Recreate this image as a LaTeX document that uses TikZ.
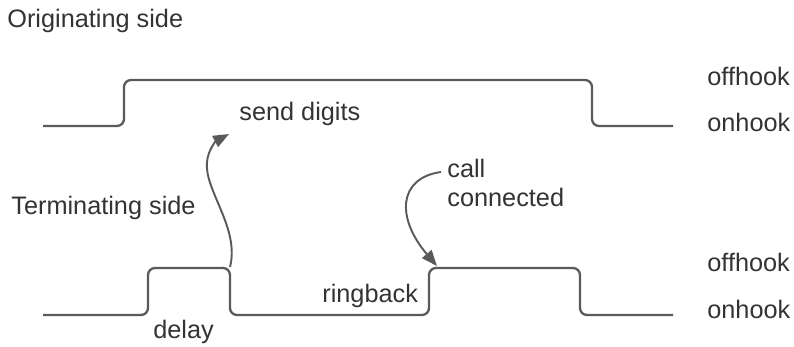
\documentclass[tikz,border=0pt]{standalone}
\usepackage{fontspec}
\setmainfont{Liberation Sans}
\usetikzlibrary{arrows.meta}
\definecolor{wavegray}{HTML}{5A5A5A}
\definecolor{textgray}{HTML}{333333}
\tikzset{
  wave/.style={draw=wavegray, line width=1.3pt, rounded corners=4pt},
  lbl/.style={inner sep=0pt, anchor=base west, text=textgray,
    font=\fontsize{14.4}{17}\selectfont},
  cue/.style={draw=wavegray, line width=1.1pt, -{Triangle[length=9pt,width=7pt]}},
}

\begin{document}
\begin{tikzpicture}[x=0.02cm, y=-0.02cm]
  \useasboundingbox (0,0) rectangle (794,347);
  % side titles
  \node[lbl] (orig) at (7,28) {Originating side};
  \node[lbl] (term) at (11,215) {Terminating side};
  % hook state labels
  \node[lbl] (offA) at (707,86) {offhook};
  \node[lbl] (onA) at (707,132) {onhook};
  \node[lbl] (offB) at (707,272) {offhook};
  \node[lbl] (onB) at (707,318) {onhook};
  % event labels
  \node[lbl] (send) at (239,121) {send digits};
  \node[lbl, align=left] (call) at (447,207) {call\\connected};
  \node[lbl] (ring) at (322,303) {ringback};
  \node[lbl] (delay) at (153,338) {delay};
  % waveforms
  \draw[wave] (43,126) -| (124,80) -| (592,126) -- (673,126);
  \draw[wave] (43,315) -| (148,268) -| (230,315) -| (429,268) -| (580,315) -- (673,315);
  % arrows
  \coordinate (dig) at (230,267);
  \coordinate (sendtip) at (229,134);
  \coordinate (callfrom) at (441,172);
  \coordinate (conn) at (437,266);
  \draw[cue] (dig) .. controls (240,228) and (204,190) .. (207,162)
    .. controls (208,150) and (216,141) .. (sendtip);
  \draw[cue] (callfrom) .. controls (398,178) and (396,218) .. (conn);
\end{tikzpicture}
\end{document}
